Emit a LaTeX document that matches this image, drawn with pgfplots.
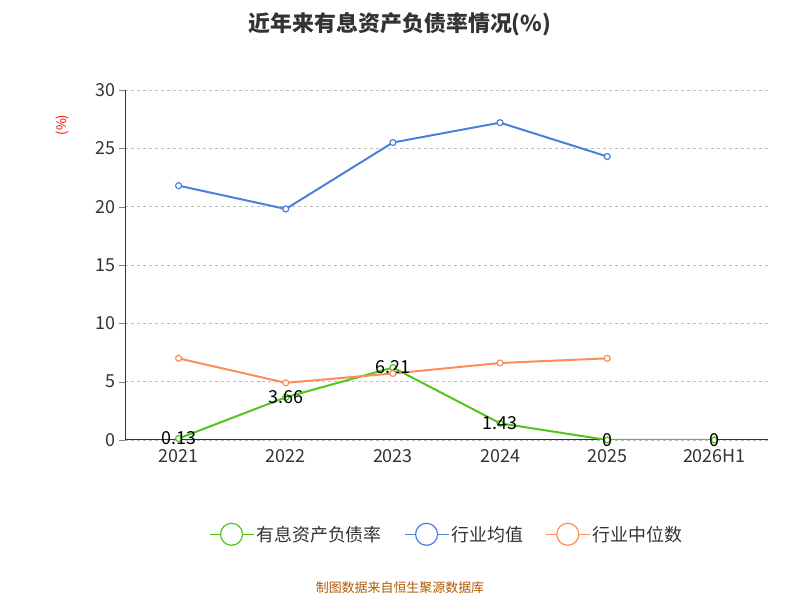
\documentclass[border=0pt]{standalone}
\usepackage{pgfplots}
\pgfplotsset{compat=1.18}
\usepackage{fontspec}
\setmainfont{Noto Sans CJK SC}
\definecolor{cg}{HTML}{52C41A}
\definecolor{cb}{HTML}{4A7FE0}
\definecolor{co}{HTML}{FF8C55}
\definecolor{tx}{HTML}{333333}
\begin{document}
\begin{tikzpicture}[x=1bp,y=1bp]
\path (0,0) rectangle (800,600);
\node[font=\bfseries\fontsize{22}{26}\selectfont,text=tx] at (400,576) {近年来有息资产负债率情况(\%)};
\node[font=\fontsize{13}{15}\selectfont,text=red,rotate=90] at (62,475) {(\%)};
\node[font=\fontsize{13}{15}\selectfont,text=orange!70!black] at (400,12) {制图数据来自恒生聚源数据库};
\begin{axis}[at={(125bp,160bp)},anchor=south west,scale only axis,width=643bp,height=350bp,
 xmin=-0.5,xmax=5.5,ymin=0,ymax=30,ytick={0,5,...,30},
 xtick={0,...,5},xticklabels={2021,2022,2023,2024,2025,2026H1},
 major x tick style={draw=none},
 extra x ticks={-0.5,0.5,...,5.5},extra x tick labels={},
 extra x tick style={major tick length=6bp,tick style={draw=tx},tick align=outside,grid=none},
 ytick align=outside,major tick length=6bp,
 axis x line*=bottom,axis y line*=left,
 axis line style={tx,line width=1pt},
 ymajorgrids,grid style={dashed,gray!50,line width=0.8pt},
 tick label style={font=\fontsize{18}{20}\selectfont,text=tx},
 xticklabel style={yshift=-6bp},
 /pgf/number format/assume math mode=true,
 legend style={at={(0.5,-0.23)},anchor=north,draw=none,legend columns=3,font=\fontsize{18}{20}\selectfont,text=tx,/tikz/every even column/.append style={column sep=20bp}},
 legend image code/.code={\draw[#1,line width=1.5pt] (0bp,0bp)--(44bp,0bp);\draw[#1,fill=white,line width=1.2pt] (22bp,0bp) circle (11bp);},
 every axis plot/.append style={line width=2pt,mark=*,mark size=3bp,mark options={fill=white,line width=1.2pt}}]
\addplot[cg,nodes near coords,point meta=explicit symbolic,every node near coord/.style={anchor=center,text=black,font=\fontsize{18}{20}\selectfont}] coordinates {(0,0.13)[0.13] (1,3.66)[3.66] (2,6.21)[6.21] (3,1.43)[1.43] (4,0)[0] (5,0)[0]};
\addlegendentry{有息资产负债率}
\addplot[cb] coordinates {(0,21.8)(1,19.8)(2,25.5)(3,27.2)(4,24.3)};
\addlegendentry{行业均值}
\addplot[co] coordinates {(0,7.0)(1,4.9)(2,5.7)(3,6.6)(4,7.0)};
\addlegendentry{行业中位数}
\end{axis}
\end{tikzpicture}
\end{document}
